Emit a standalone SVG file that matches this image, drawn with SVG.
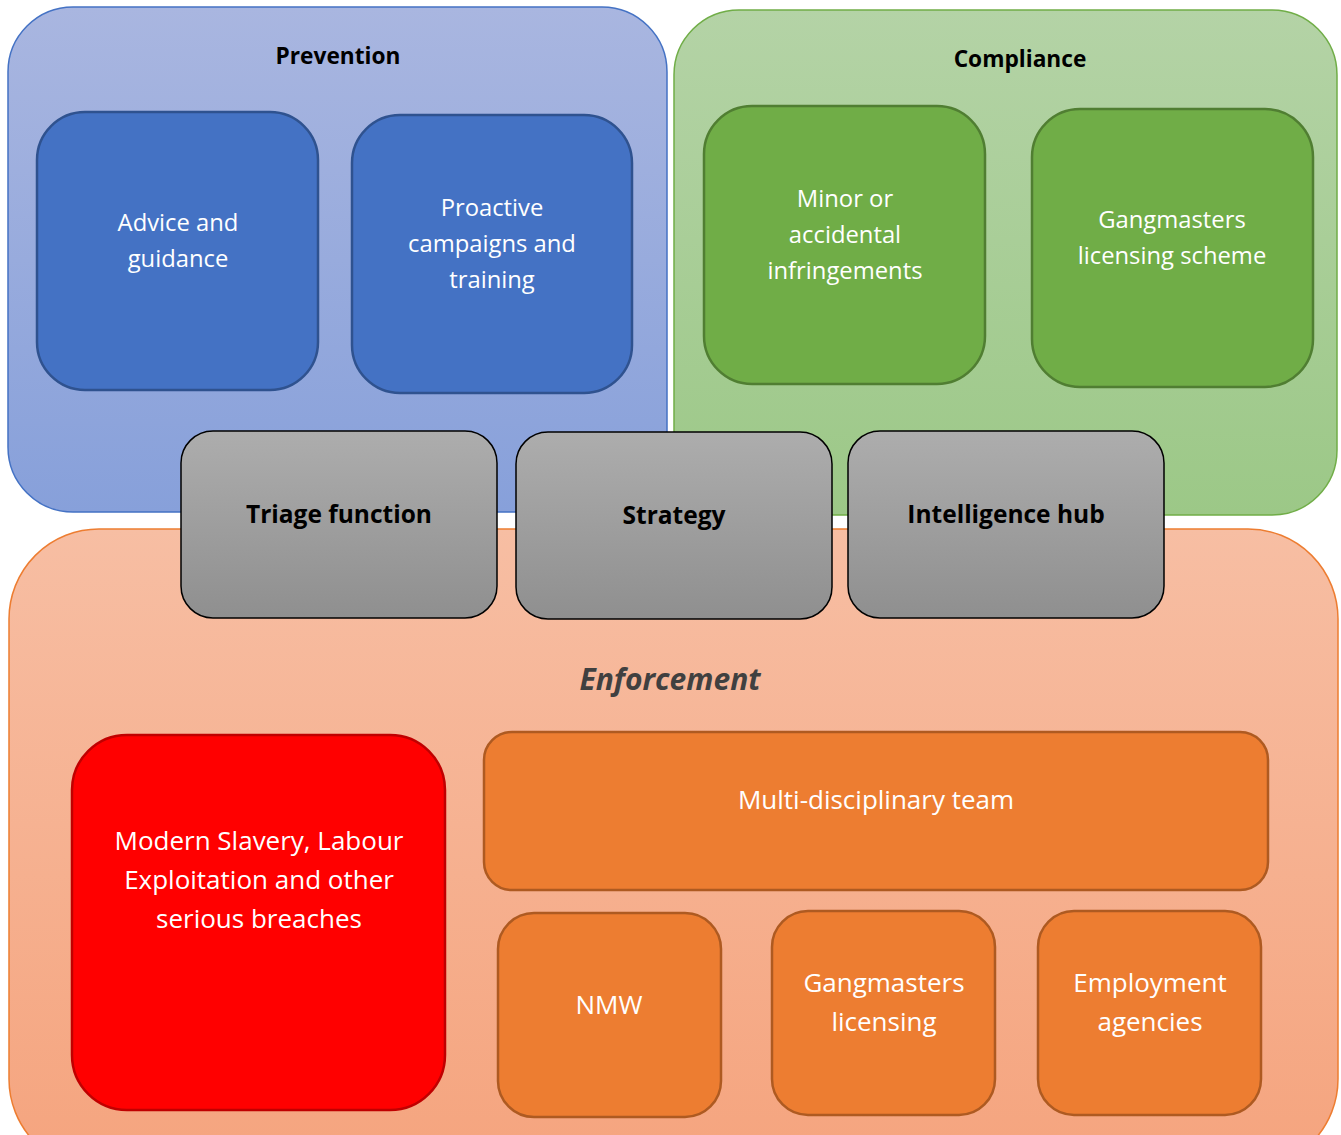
<svg xmlns="http://www.w3.org/2000/svg" width="1341" height="1135" viewBox="0 0 1341 1135">
<defs>
<linearGradient id="gBlue" x1="0" y1="0" x2="0" y2="1"><stop offset="0" stop-color="#A9B6E0"/><stop offset="1" stop-color="#87A0DA"/></linearGradient>
<linearGradient id="gGreen" x1="0" y1="0" x2="0" y2="1"><stop offset="0" stop-color="#B4D3A6"/><stop offset="1" stop-color="#9CC887"/></linearGradient>
<linearGradient id="gOrange" x1="0" y1="0" x2="0" y2="1"><stop offset="0" stop-color="#F7BEA3"/><stop offset="1" stop-color="#F5A47E"/></linearGradient>
<linearGradient id="gGray" x1="0" y1="0" x2="0" y2="1"><stop offset="0" stop-color="#ADADAD"/><stop offset="1" stop-color="#8F8F8F"/></linearGradient>
<style>
text{font-family:"Open Sans","Liberation Sans",sans-serif;text-anchor:middle}
.w{fill:#FFFFFF;font-size:23.8px}
.w2{fill:#FFFFFF;font-size:26px}
.hd{fill:#000000;font-size:22.7px;font-weight:bold}
.gh{fill:#000000;font-size:24.5px;font-weight:bold}
.blue{fill:#4472C4;stroke:#2F528F;stroke-width:2.5}
.green{fill:#70AD47;stroke:#507E32;stroke-width:2.5}
.gray{fill:url(#gGray);stroke:#000000;stroke-width:1.5}
.orange{fill:#ED7D31;stroke:#AE5A21;stroke-width:2.5}
</style>
</defs>
<rect width="1341" height="1135" fill="#FFFFFF"/>
<g id="enforcement">
<rect x="9" y="529" width="1329" height="640" rx="90" fill="url(#gOrange)" stroke="#ED7D31" stroke-width="1.5"/>
<text x="670" y="690" style="fill:#404040;font-size:30px;font-weight:bold;font-style:italic">Enforcement</text>
</g>
<g id="prevention">
<rect x="8" y="7" width="659" height="505" rx="65" fill="url(#gBlue)" stroke="#4472C4" stroke-width="1.5"/>
<text class="hd" x="338" y="64">Prevention</text>
</g>
<g id="compliance">
<rect x="674" y="10" width="663" height="505" rx="65" fill="url(#gGreen)" stroke="#70AD47" stroke-width="1.5"/>
<text class="hd" x="1020" y="67">Compliance</text>
</g>
<g id="advice">
<rect class="blue" x="37" y="112" width="281" height="278" rx="48"/>
<text class="w" x="178" y="231">Advice and</text>
<text class="w" x="178" y="267">guidance</text>
</g>
<g id="proactive">
<rect class="blue" x="352" y="115" width="280" height="278" rx="48"/>
<text class="w" x="492" y="216">Proactive</text>
<text class="w" x="492" y="252">campaigns and</text>
<text class="w" x="492" y="288">training</text>
</g>
<g id="minor">
<rect class="green" x="704" y="106" width="281" height="278" rx="48"/>
<text class="w" x="845" y="207">Minor or</text>
<text class="w" x="845" y="243">accidental</text>
<text class="w" x="845" y="279">infringements</text>
</g>
<g id="gls">
<rect class="green" x="1032" y="109" width="281" height="278" rx="48"/>
<text class="w" x="1172" y="228">Gangmasters</text>
<text class="w" x="1172" y="264">licensing scheme</text>
</g>
<g id="triage">
<rect class="gray" x="181" y="431" width="316" height="187" rx="32"/>
<text class="gh" x="339" y="523">Triage function</text>
</g>
<g id="strategy">
<rect class="gray" x="516" y="432" width="316" height="187" rx="32"/>
<text class="gh" x="674" y="524">Strategy</text>
</g>
<g id="intel">
<rect class="gray" x="848" y="431" width="316" height="187" rx="32"/>
<text class="gh" x="1006" y="523">Intelligence hub</text>
</g>
<g id="modern-slavery">
<rect x="72" y="735" width="373" height="375" rx="55" fill="#FF0000" stroke="#C00000" stroke-width="2.5"/>
<text class="w2" x="259" y="850">Modern Slavery, Labour</text>
<text class="w2" x="259" y="889">Exploitation and other</text>
<text class="w2" x="259" y="928">serious breaches</text>
</g>
<g id="mdt">
<rect class="orange" x="484" y="732" width="784" height="158" rx="28"/>
<text class="w2" x="876" y="809">Multi-disciplinary team</text>
</g>
<g id="nmw">
<rect class="orange" x="498" y="913" width="223" height="204" rx="36"/>
<text class="w2" x="609" y="1014">NMW</text>
</g>
<g id="gl">
<rect class="orange" x="772" y="911" width="223" height="204" rx="36"/>
<text class="w2" x="884" y="992">Gangmasters</text>
<text class="w2" x="884" y="1031">licensing</text>
</g>
<g id="ea">
<rect class="orange" x="1038" y="911" width="223" height="204" rx="36"/>
<text class="w2" x="1150" y="992">Employment</text>
<text class="w2" x="1150" y="1031">agencies</text>
</g>
<g id="connectors"/>
</svg>
